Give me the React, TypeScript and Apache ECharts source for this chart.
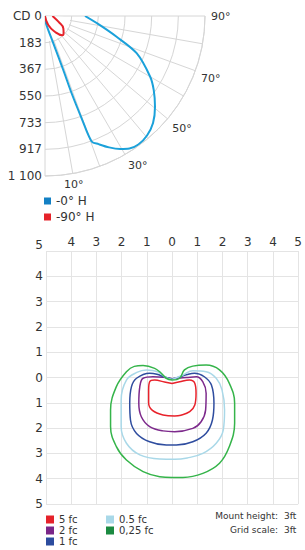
import React, { useEffect, useRef } from 'react';
import * as echarts from 'echarts';

const FONT = 'DejaVu Sans, Verdana, sans-serif';

// ---------- Polar candela plot ----------
const polarNames = ['-0° H', '-90° H'];
const radiusMax = 1100;
const radiusSteps = 6;
const angleTickLabels = [10, 30, 50, 70, 90];
// [candela, angle in degrees]
const intensity0H: [number, number][] = [
  [0, 0], [45, 6], [195, 16.9], [390, 18.7], [560, 19], [745, 19.7], [920, 20.4],
  [955, 22.7], [1005, 26], [1050, 29.5], [1080, 32.5], [1092, 36], [1080, 40.5], [1045, 45.3],
  [980, 50.5], [905, 55.7], [835, 60], [680, 67.9], [510, 73.9], [380, 80.7], [275, 90],
];
const intensity90H: [number, number][] = [
  [0, 0], [66, 20], [128, 32], [178, 42], [172, 48], [152, 56], [100, 67], [57, 85], [50, 90],
];

// ---------- Isolux plot ----------
const isoNames = ['5 fc', '2 fc', '1 fc', '0.5 fc', '0,25 fc'];
const iso5: [number, number][] = [
  [0, 0.24], [-0.3, 0.18], [-0.69, 0.1], [-0.89, 0.17], [-0.93, 0.49], [-0.93, 1.02],
  [-0.78, 1.3], [-0.36, 1.48], [0.1, 1.52], [0.35, 1.49], [0.7, 1.35], [0.9, 1.09],
  [0.95, 0.62], [0.9, 0.23], [0.69, 0.1], [0.3, 0.17], [0, 0.24],
];
const iso2: [number, number][] = [
  [0, 0.05], [-0.35, -0.01], [-0.76, -0.03], [-1.15, 0.03], [-1.28, 0.36], [-1.32, 1.02],
  [-1.22, 1.55], [-0.89, 1.94], [-0.36, 2.11], [0.1, 2.14], [0.82, 2.01], [1.15, 1.75],
  [1.33, 1.28], [1.35, 0.62], [1.22, 0.17], [0.96, -0.03], [0.56, 0.0], [0.25, 0.02], [0, 0.05],
];
const iso1: [number, number][] = [
  [0, 0.06], [-0.3, -0.02], [-0.6, -0.13], [-0.89, -0.17], [-1.41, 0.03], [-1.61, 0.36],
  [-1.68, 1.02], [-1.65, 1.68], [-1.41, 2.21], [-0.89, 2.54], [-0.23, 2.67], [0.17, 2.67],
  [0.82, 2.54], [1.35, 2.2], [1.6, 1.68], [1.66, 1.02], [1.56, 0.3], [1.28, -0.03],
  [0.89, -0.17], [0.6, -0.12], [0.3, -0.02], [0, 0.06],
];
const iso05: [number, number][] = [
  [0, 0.08], [-0.3, -0.03], [-0.56, -0.23], [-1.02, -0.3], [-1.4, -0.2], [-1.81, 0.1],
  [-2.02, 0.89], [-2.02, 1.94], [-1.81, 2.6], [-1.28, 3.06], [-0.49, 3.22], [0.1, 3.23],
  [0.6, 3.18], [1.22, 3.0], [1.75, 2.6], [2.03, 2.07], [2.08, 1.28], [1.98, 0.49],
  [1.75, 0.03], [1.35, -0.23], [0.82, -0.27], [0.43, -0.1], [0, 0.08],
];
const iso025: [number, number][] = [
  [0, 0.1], [-0.23, 0.03], [-0.43, -0.17], [-0.69, -0.36], [-1.15, -0.47], [-1.5, -0.44],
  [-1.81, -0.23], [-2.21, 0.36], [-2.44, 1.28], [-2.44, 1.94], [-2.21, 2.73], [-1.81, 3.26],
  [-1.15, 3.72], [-0.49, 3.92], [0, 3.95], [0.43, 3.95], [1.22, 3.79], [1.88, 3.39],
  [2.27, 2.73], [2.48, 1.81], [2.48, 1.02], [2.27, 0.23], [1.88, -0.3], [1.35, -0.49],
  [0.82, -0.45], [0.49, -0.3], [0.3, 0.03], [0, 0.1],
];
const isoData = [iso5, iso2, iso1, iso05, iso025];
const isoLineColors = ['#e8222b', '#7d2a8c', '#2f4d9f', '#a9d8e8', '#35b44a'];
const isoLegendColors = ['#e5222a', '#7a2688', '#2c4c9e', '#a8d8e8', '#1b8a41'];
const isoMin = -5;
const isoMax = 5;
const mountHeight = '3ft';
const gridScale = '3ft';

const polarLineColors = ['#1ba1da', '#e6232b'];
const polarLegendColors = ['#1380c4', '#e5232a'];

const GRID_P = '#d6d6d6';
const GRID_I = '#e4e4e4';
const TXT = '#333333';

const fmtCd = (v: number) => {
  if (v === 0) return 'CD 0';
  return String(Math.round(v)).replace(/\B(?=(\d{3})+(?!\d))/g, ' ');
};

export default function App() {
  const ref = useRef<HTMLDivElement>(null);
  useEffect(() => {
    if (!ref.current) return;
    const chart = echarts.init(ref.current, undefined, { renderer: 'svg' });
    const step = radiusMax / radiusSteps;
    const option: any = {
      animation: false,
      textStyle: { fontFamily: FONT },
      polar: { center: [45, 16], radius: 160 },
      angleAxis: {
        type: 'value', min: 0, max: 90, interval: 10,
        startAngle: 270, endAngle: 360, clockwise: false,
        axisLine: { show: true, lineStyle: { color: GRID_P, width: 1 } },
        axisTick: { show: false },
        splitLine: { show: true, lineStyle: { color: GRID_P, width: 1 } },
        axisLabel: {
          color: TXT, fontSize: 11, margin: 6, fontFamily: FONT,
          formatter: (v: number) => (angleTickLabels.includes(Math.round(v)) ? Math.round(v) + '°' : ''),
        },
      },
      radiusAxis: {
        type: 'value', min: 0, max: radiusMax, interval: step,
        axisLine: { show: false }, axisTick: { show: false }, axisLabel: { show: false },
        splitLine: { show: true, lineStyle: { color: GRID_P, width: 1 } },
      },
      grid: [
        { left: 45, top: 16, width: 10, height: 160, show: false },
        { left: 46, top: 251, width: 253, height: 253 },
      ],
      xAxis: [
        { gridIndex: 0, type: 'value', show: false, min: 0, max: 1 },
        {
          gridIndex: 1, type: 'value', position: 'top', min: isoMin, max: isoMax, interval: 1,
          axisLine: { show: false }, axisTick: { show: false },
          splitLine: { show: true, lineStyle: { color: GRID_I, width: 1 } },
          axisLabel: {
            showMinLabel: false, margin: 3, fontSize: 12, color: TXT, fontFamily: FONT,
            formatter: (v: number) => String(Math.abs(v)),
          },
        },
      ],
      yAxis: [
        {
          gridIndex: 0, type: 'value', inverse: true, min: 0, max: radiusMax, interval: step,
          axisLine: { show: false }, axisTick: { show: false }, splitLine: { show: false },
          axisLabel: { margin: 3, fontSize: 12, color: TXT, fontFamily: FONT, formatter: fmtCd },
        },
        {
          gridIndex: 1, type: 'value', inverse: true, min: isoMin, max: isoMax, interval: 1,
          axisLine: { show: false }, axisTick: { show: false },
          splitLine: { show: true, lineStyle: { color: GRID_I, width: 1 } },
          axisLabel: {
            margin: 3, fontSize: 12, color: TXT, fontFamily: FONT,
            verticalAlignMinLabel: 'bottom',
            formatter: (v: number) => String(Math.abs(v)),
          },
        },
      ],
      legend: [
        {
          data: polarNames.map((n, i) => ({ name: n, itemStyle: { color: polarLegendColors[i], borderWidth: 0 } })),
          left: 44, top: 194, orient: 'vertical', padding: 0,
          itemWidth: 7, itemHeight: 7, itemGap: 2, icon: 'rect',
          itemStyle: { borderWidth: 0 },
          textStyle: { fontSize: 12, lineHeight: 14, color: TXT, fontFamily: FONT },
        },
        {
          data: isoNames.slice(0, 3).map((n, i) => ({ name: n, itemStyle: { color: isoLegendColors[i], borderWidth: 0 } })),
          left: 46, top: 514, orient: 'vertical', padding: 0,
          itemWidth: 8, itemHeight: 8, itemGap: 0, icon: 'rect',
          itemStyle: { borderWidth: 0 },
          textStyle: { fontSize: 10, lineHeight: 11, color: TXT, fontFamily: FONT },
        },
        {
          data: isoNames.slice(3).map((n, i) => ({ name: n, itemStyle: { color: isoLegendColors[i + 3], borderWidth: 0 } })),
          left: 106, top: 514, orient: 'vertical', padding: 0,
          itemWidth: 8, itemHeight: 8, itemGap: 0, icon: 'rect',
          itemStyle: { borderWidth: 0 },
          textStyle: { fontSize: 10, lineHeight: 11, color: TXT, fontFamily: FONT },
        },
      ],
      graphic: [
        {
          type: 'sector', z: 1, silent: true,
          shape: { cx: 45, cy: 16, r0: 0, r: 25.5, startAngle: 0.05, endAngle: Math.PI / 2 - 0.05 },
          style: { fill: '#ffffff' },
        },
        { type: 'text', x: 278, y: 516, style: { text: 'Mount height:', align: 'right', verticalAlign: 'middle', fontSize: 9, fill: TXT, fontFamily: FONT } },
        { type: 'text', x: 284, y: 516, style: { text: mountHeight, align: 'left', verticalAlign: 'middle', fontSize: 9, fill: TXT, fontFamily: FONT } },
        { type: 'text', x: 278, y: 530, style: { text: 'Grid scale:', align: 'right', verticalAlign: 'middle', fontSize: 9, fill: TXT, fontFamily: FONT } },
        { type: 'text', x: 284, y: 530, style: { text: gridScale, align: 'left', verticalAlign: 'middle', fontSize: 9, fill: TXT, fontFamily: FONT } },
      ],
      series: [
        {
          name: polarNames[0], type: 'line', coordinateSystem: 'polar', data: intensity0H,
          smooth: 0.3, showSymbol: false, z: 3,
          lineStyle: { color: polarLineColors[0], width: 2 }, itemStyle: { color: polarLineColors[0] },
        },
        {
          name: polarNames[1], type: 'line', coordinateSystem: 'polar', data: intensity90H,
          smooth: 0.5, showSymbol: false, z: 3,
          lineStyle: { color: polarLineColors[1], width: 2 }, itemStyle: { color: polarLineColors[1] },
        },
        ...isoNames.map((n, i) => ({
          name: n, type: 'line', xAxisIndex: 1, yAxisIndex: 1, data: isoData[i],
          smooth: 0.4, showSymbol: false, z: 3,
          lineStyle: { color: isoLineColors[i], width: 1.5 }, itemStyle: { color: isoLineColors[i] },
        })),
      ],
    };
    chart.setOption(option);
    return () => chart.dispose();
  }, []);
  return <div ref={ref} style={{ position: 'fixed', left: 0, top: 0, width: 305, height: 550, background: '#fff' }} />;
}
